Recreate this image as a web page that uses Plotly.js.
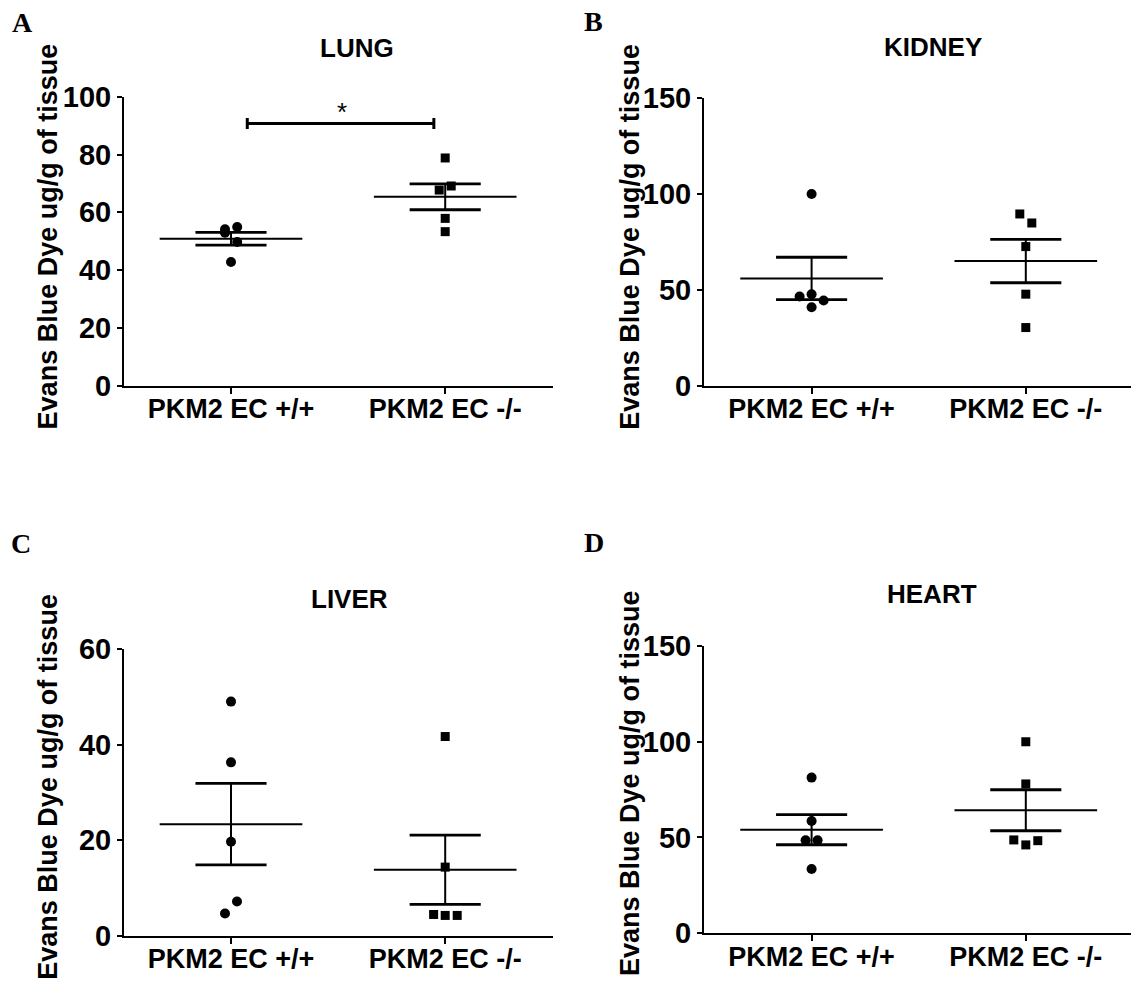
<!DOCTYPE html>
<html>
<head>
<meta charset="utf-8">
<script src="https://cdn.plot.ly/plotly-3.0.1.min.js"></script>
<style>html,body{margin:0;padding:0;background:#fff;}#chart{width:1131px;height:984px;}</style>
</head>
<body>
<div id="chart"></div>
<script>
// ---- data ----
const categories = ['PKM2 EC +/+', 'PKM2 EC -/-'];
const panelTitles = ['LUNG', 'KIDNEY', 'LIVER', 'HEART'];
const panelLetters = ['A', 'B', 'C', 'D'];
const yTitle = 'Evans Blue Dye ug/g of tissue';

const lungWT = [54.1, 52.9, 54.9, 49.7, 42.8];
const lungKO = [78.8, 67.7, 69.1, 57.9, 53.3];
const kidneyWT = [99.8, 46.4, 47.6, 44.3, 40.8];
const kidneyKO = [89.4, 84.7, 72.4, 47.6, 30.2];
const liverWT = [49.0, 36.3, 19.7, 7.2, 4.7];
const liverKO = [41.7, 14.4, 4.5, 4.3, 4.3];
const heartWT = [81.2, 58.6, 48.5, 48.5, 33.5];
const heartKO = [99.9, 77.9, 48.7, 46.1, 48.3];

const lungTicks = [0, 20, 40, 60, 80, 100];
const kidneyTicks = [0, 50, 100, 150];
const liverTicks = [0, 20, 40, 60];
const heartTicks = [0, 50, 100, 150];

const sigLabel = '*';
const sigLevel = 90.7;

// ---- layout / styling (not data) ----
const W = 1131, H = 984;
const jitter = {
  lungWT: [-0.028, -0.028, 0.029, 0.029, 0],
  lungKO: [0, -0.028, 0.028, 0, 0],
  kidneyWT: [0, -0.056, 0, 0.056, 0],
  kidneyKO: [-0.028, 0.028, 0, 0, 0],
  liverWT: [0, 0, 0, 0.028, -0.028],
  liverKO: [0, 0, -0.054, 0, 0.056],
  heartWT: [0, 0, -0.028, 0.028, 0],
  heartKO: [0, 0, -0.056, 0, 0.056]
};
// panel boxes in pixels: left, right, top, bottom
const boxes = [
  {l: 124, r: 553, t: 96.7, b: 385.7},
  {l: 704, r: 1131, t: 97.7, b: 385.5},
  {l: 124, r: 553, t: 649, b: 936},
  {l: 704, r: 1131, t: 645.7, b: 933.3}
];
const titlePos = [[356.8, 48.3], [932.6, 46.7], [349.6, 598.7], [931.7, 593.7]];
const letterPos = [[22, 23], [593, 21], [21, 543], [593.5, 542.5]];
const yTitlePos = [[47.7, 236.7], [630, 236.7], [47.7, 787], [630, 783]];

const FONT = 'Liberation Sans, Arial, Helvetica, sans-serif';
const SERIF = 'Liberation Serif, Times New Roman, serif';

const panels = [
  {wt: lungWT, ko: lungKO, jw: jitter.lungWT, jk: jitter.lungKO, ticks: lungTicks},
  {wt: kidneyWT, ko: kidneyKO, jw: jitter.kidneyWT, jk: jitter.kidneyKO, ticks: kidneyTicks},
  {wt: liverWT, ko: liverKO, jw: jitter.liverWT, jk: jitter.liverKO, ticks: liverTicks},
  {wt: heartWT, ko: heartKO, jw: jitter.heartWT, jk: jitter.heartKO, ticks: heartTicks}
];

function mean(a) { return a.reduce((s, v) => s + v, 0) / a.length; }
function sem(a) {
  const m = mean(a);
  const v = a.reduce((s, x) => s + (x - m) * (x - m), 0) / (a.length - 1);
  return Math.sqrt(v / a.length);
}

const traces = [];
const layout = {
  width: W, height: H,
  margin: {l: 0, r: 0, t: 0, b: 0},
  paper_bgcolor: '#fff', plot_bgcolor: 'rgba(0,0,0,0)',
  showlegend: false,
  annotations: [],
  font: {family: FONT, color: '#000'}
};

const MEAN_HALF = 0.333, CAP_HALF = 0.166;

panels.forEach((p, i) => {
  const n = i === 0 ? '' : String(i + 1);
  const xa = 'x' + n, ya = 'y' + n;
  const bx = boxes[i];
  const lastTick = p.ticks[p.ticks.length - 1];
  const unit = 214.2;
  const left = -(bx.l === 124 ? 107 : 107.6) / unit;
  const right = left + (bx.r - bx.l) / unit;

  layout['xaxis' + n] = {
    domain: [bx.l / W, bx.r / W], anchor: ya,
    range: [left, right],
    tickvals: [0, 1], ticktext: categories,
    ticks: 'outside', ticklen: 6, tickwidth: 2, tickcolor: '#000',
    ticklabelstandoff: -8,
    showline: true, linecolor: '#000', linewidth: 2,
    showgrid: false, zeroline: false, fixedrange: true,
    tickfont: {family: FONT, size: 27, weight: 700, color: '#000'}
  };
  layout['yaxis' + n] = {
    domain: [1 - bx.b / H, 1 - bx.t / H], anchor: xa,
    range: [0, lastTick],
    tickvals: p.ticks,
    ticks: 'outside', ticklen: 5, tickwidth: 2, tickcolor: '#000',
    showline: true, linecolor: '#000', linewidth: 2,
    showgrid: false, zeroline: false, fixedrange: true,
    tickfont: {family: FONT, size: 29, weight: 700, color: '#000'}
  };

  [[p.wt, p.jw, 0, 'circle', 10], [p.ko, p.jk, 1, 'square', 9]].forEach(([vals, jit, g, sym, sz]) => {
    const m = mean(vals), s = sem(vals);
    traces.push({x: [g - MEAN_HALF, g + MEAN_HALF], y: [m, m], xaxis: xa, yaxis: ya,
      mode: 'lines', line: {color: '#000', width: 2}, hoverinfo: 'skip'});
    traces.push({x: [g, g], y: [m - s, m + s], xaxis: xa, yaxis: ya,
      mode: 'lines', line: {color: '#000', width: 2}, hoverinfo: 'skip'});
    traces.push({x: [g - CAP_HALF, g + CAP_HALF, null, g - CAP_HALF, g + CAP_HALF],
      y: [m + s, m + s, null, m - s, m - s], xaxis: xa, yaxis: ya,
      mode: 'lines', line: {color: '#000', width: 2.8}, hoverinfo: 'skip'});
    traces.push({x: vals.map((v, k) => g + jit[k]), y: vals, xaxis: xa, yaxis: ya,
      mode: 'markers', marker: {symbol: sym, size: sz, color: '#000', line: {width: 0}},
      cliponaxis: false});
  });

  layout.annotations.push({text: panelTitles[i], xref: 'paper', yref: 'paper',
    x: titlePos[i][0] / W, y: 1 - titlePos[i][1] / H, xanchor: 'center', yanchor: 'middle',
    showarrow: false, font: {family: FONT, size: 26, weight: 700, color: '#000'}});
  layout.annotations.push({text: panelLetters[i], xref: 'paper', yref: 'paper',
    x: letterPos[i][0] / W, y: 1 - letterPos[i][1] / H, xanchor: 'center', yanchor: 'middle',
    showarrow: false, font: {family: SERIF, size: 28, weight: 700, color: '#000'}});
  layout.annotations.push({text: yTitle, xref: 'paper', yref: 'paper', textangle: -90,
    x: yTitlePos[i][0] / W, y: 1 - yTitlePos[i][1] / H, xanchor: 'center', yanchor: 'middle',
    showarrow: false, font: {family: FONT, size: 27, weight: 700, color: '#000'}});
});

// significance bracket on LUNG
const sigX0 = 0.076, sigX1 = 0.947, capH = 1.9;
traces.push({x: [sigX0, sigX1], y: [sigLevel, sigLevel], xaxis: 'x', yaxis: 'y',
  mode: 'lines', line: {color: '#000', width: 3}, hoverinfo: 'skip'});
traces.push({x: [sigX0, sigX0, null, sigX1, sigX1],
  y: [sigLevel - capH, sigLevel + capH, null, sigLevel - capH, sigLevel + capH],
  xaxis: 'x', yaxis: 'y', mode: 'lines', line: {color: '#000', width: 3}, hoverinfo: 'skip'});
layout.annotations.push({text: sigLabel, xref: 'x', yref: 'y', x: (sigX0 + sigX1) / 2 + 0.006, y: sigLevel + 4,
  xanchor: 'center', yanchor: 'middle', showarrow: false,
  font: {family: FONT, size: 26, color: '#000'}});

Plotly.newPlot('chart', traces, layout, {staticPlot: true, displayModeBar: false});
</script>
</body>
</html>
